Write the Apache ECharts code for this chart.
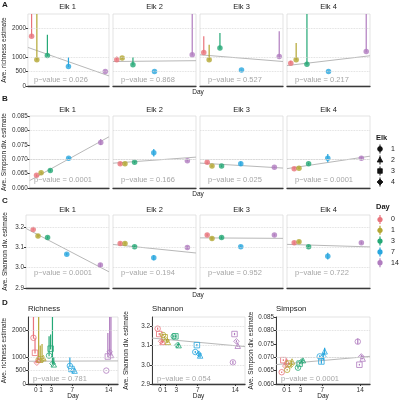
<!DOCTYPE html>
<html>
<head>
<meta charset="utf-8">
<script src="https://cdn.jsdelivr.net/npm/echarts@6/dist/echarts.min.js"></script>
<style>
  html, body { margin: 0; background: #fff; }
  #chart { width: 399px; height: 400px; }
</style>
</head>
<body>
<div id="chart"></div>
<script>
const days = [0, 1, 3, 7, 14];
const elkNames = ['1', '2', '3', '4'];
const facetNames = ['Elk 1', 'Elk 2', 'Elk 3', 'Elk 4'];

const richTicks = [0, 500, 1000, 2000];
const simpTicks = [0.060, 0.065, 0.070, 0.075, 0.080, 0.085];
const shanTicks = [2.9, 3.0, 3.1, 3.2];

// rows = elk 1..4, columns = day 0,1,3,7,14
const richness   = [[1724, 909, 1060, 675, 500], [909, 968, 734, 500, 1084], [1164, 909, 1318, 559, 1025], [793, 909, 758, 500, 1200]];
const richnessLo = [[1690, 885, 1040, 660, 490], [885, 950, 720, 490, 1060], [1140, 890, 1290, 545, 1000], [775, 890, 740, 490, 1170]];
const richnessHi = [[4000, 4000, 1783, 1000, 520], [1024, 990, 1000, 510, 4000], [1724, 1434, 1843, 570, 1900], [874, 1490, 4000, 510, 4000]];

const simpson   = [[0.0644, 0.0653, 0.0661, 0.0703, 0.0758], [0.0684, 0.0684, 0.0689, 0.0722, 0.0695], [0.0689, 0.0676, 0.0676, 0.0684, 0.0672], [0.0667, 0.0669, 0.0684, 0.0703, 0.0703]];
const simpsonLo = [[0.0641, 0.0650, 0.0657, 0.0699, 0.0749], [0.0681, 0.0681, 0.0686, 0.0709, 0.0692], [0.0686, 0.0673, 0.0673, 0.0676, 0.0669], [0.0664, 0.0666, 0.0681, 0.0689, 0.0697]];
const simpsonHi = [[0.0647, 0.0656, 0.0665, 0.0707, 0.0770], [0.0687, 0.0687, 0.0692, 0.0735, 0.0698], [0.0692, 0.0679, 0.0679, 0.0692, 0.0675], [0.0670, 0.0672, 0.0687, 0.0718, 0.0709]];

const shannon   = [[3.189, 3.156, 3.149, 3.067, 3.013], [3.120, 3.120, 3.103, 3.049, 3.100], [3.161, 3.144, 3.149, 3.103, 3.161], [3.123, 3.128, 3.103, 3.057, 3.123]];
const shannonLo = [[3.183, 3.150, 3.143, 3.061, 3.004], [3.114, 3.114, 3.097, 3.037, 3.094], [3.155, 3.138, 3.143, 3.097, 3.155], [3.117, 3.122, 3.097, 3.040, 3.117]];
const shannonHi = [[3.195, 3.162, 3.155, 3.073, 3.022], [3.126, 3.126, 3.109, 3.061, 3.106], [3.167, 3.150, 3.155, 3.109, 3.167], [3.129, 3.134, 3.109, 3.074, 3.129]];

// fitted value at day 0 and day 14 for each elk
const richnessFit = [[1295, 395], [851, 878], [1073, 861], [725, 1034]];
const simpsonFit  = [[0.0639, 0.0762], [0.0688, 0.0705], [0.0685, 0.0671], [0.0671, 0.0706]];
const shannonFit  = [[3.175, 3.002], [3.111, 3.077], [3.147, 3.145], [3.114, 3.104]];

const richnessP = ['0.026', '0.868', '0.527', '0.217'];
const simpsonP  = ['0.0001', '0.166', '0.025', '0.0001'];
const shannonP  = ['0.0001', '0.194', '0.952', '0.722'];

// panel D: pooled
const pooledTitles = ['Richness', 'Shannon', 'Simpson'];
const pooledFit = [[850, 860], [3.136, 3.100], [0.0675, 0.0700]];
const pooledP = ['0.781', '0.054', '0.0001'];

// styling
const dayColors = ['#E8737B', '#B3A632', '#24A876', '#28A6DE', '#B07CBF'];
const elkSymbols = ['circle', 'triangle', 'rect', 'diamond'];
const elkJitter = [-0.45, 0.45, -0.15, 0.2];
const FONT = '"Liberation Sans", Arial, sans-serif';
const TXT = '#1a1a1a';

const chart = echarts.init(document.getElementById('chart'));
const grid = [], xAxis = [], yAxis = [], series = [], graphic = [];

function text(x, y, s, opt) {
  opt = opt || {};
  graphic.push({
    type: 'text', x: x, y: y, silent: true,
    style: {
      text: s, fill: opt.color || TXT,
      font: (opt.bold ? 'bold ' : '') + (opt.size || 7) + 'px ' + FONT,
      align: opt.align || 'left', verticalAlign: 'middle',
      textAlign: opt.align || 'left', textVerticalAlign: 'middle'
    }
  });
}

function addPanel(o) {
  const i = grid.length;
  grid.push({ left: o.left, top: o.top, width: o.width, height: o.height, show: true,
    borderColor: '#dcdcdc', borderWidth: 0.8, backgroundColor: '#fff' });
  xAxis.push({ gridIndex: i, type: 'value', min: o.xr[0], max: o.xr[1], splitLine: { show: false },
    axisLine: { show: true, onZero: false, lineStyle: { color: '#3a3a3a', width: 1.3 } },
    axisTick: { show: !!o.xTicks, customValues: o.xTicks, length: 2, lineStyle: { color: '#333' } },
    axisLabel: { show: !!o.xTicks, customValues: o.xTicks, fontSize: 6.5, color: '#333', margin: 3, fontFamily: FONT } });
  yAxis.push({ gridIndex: i, type: 'value', min: o.yr[0], max: o.yr[1], splitLine: { show: false },
    axisLine: { show: !!o.yLine, onZero: false, lineStyle: { color: '#3a3a3a', width: 1 } },
    axisTick: { show: o.showY, customValues: o.ticks, length: 2, lineStyle: { color: '#333' } },
    axisLabel: { show: o.showY, customValues: o.ticks, formatter: o.fmt, fontSize: 6.3, color: '#333', margin: 2, fontFamily: FONT },
    name: o.name || '', nameLocation: 'middle', nameRotate: 90, nameGap: o.nameGap || 0,
    nameTextStyle: { fontSize: 6.5, color: TXT, fontFamily: FONT } });
  // fitted line + dotted grid lines
  const f = o.fit;
  const at = x => f[0] + (f[1] - f[0]) * x / 14;
  series.push({ type: 'line', xAxisIndex: i, yAxisIndex: i, silent: true, symbol: 'none', z: 2, clip: true,
    data: [[o.xr[0], at(o.xr[0])], [o.xr[1], at(o.xr[1])]],
    lineStyle: { color: '#b8b8b8', width: 1 },
    markLine: { silent: true, symbol: 'none', label: { show: false }, animation: false,
      lineStyle: { type: 'dotted', color: '#d6d6d6', width: 0.8 },
      data: o.ticks.filter(t => t > o.yr[0] && t < o.yr[1]).map(t => ({ yAxis: t })) } });
  return i;
}

function addErr(i, items) {
  series.push({ type: 'custom', xAxisIndex: i, yAxisIndex: i, clip: true, silent: true, z: 3,
    encode: { x: 0, y: [1, 2] }, data: items,
    renderItem: (params, api) => {
      const a = api.coord([api.value(0), api.value(1)]);
      const b = api.coord([api.value(0), api.value(2)]);
      return { type: 'line', shape: { x1: a[0], y1: a[1], x2: b[0], y2: b[1] },
        style: { stroke: dayColors[api.value(3)], lineWidth: 1.2 } };
    } });
}

const facetLeft = [26, 113, 200, 287], facetW = 83;
const rows = [
  { letter: 'A', letterY: 5, stripY: 7, top: 14, h: 72, xr: [-0.7, 14.7], yr: [0, 2500],
    v: richness, lo: richnessLo, hi: richnessHi, fit: richnessFit, p: richnessP, ticks: richTicks,
    fmt: v => String(v), name: 'Ave. richness estimate', pOff: 6, dayY: 92 },
  { letter: 'B', letterY: 99, stripY: 110, top: 116, h: 72, xr: [-1.5, 15.8], yr: [0.060, 0.085],
    v: simpson, lo: simpsonLo, hi: simpsonHi, fit: simpsonFit, p: simpsonP, ticks: simpTicks,
    fmt: v => v.toFixed(3), name: 'Ave. Simpson div. estimate', pOff: 8, dayY: 194 },
  { letter: 'C', letterY: 201, stripY: 210, top: 215, h: 73, xr: [-1.5, 15.8], yr: [2.9, 3.26],
    v: shannon, lo: shannonLo, hi: shannonHi, fit: shannonFit, p: shannonP, ticks: shanTicks,
    fmt: v => v.toFixed(1), name: 'Ave. Shannon div. estimate', pOff: 15, dayY: 295 }
];

rows.forEach(r => {
  text(2, r.letterY, r.letter, { bold: true, size: 8 });
  text(198, r.dayY, 'Day', { size: 6.5, align: 'center' });
  facetNames.forEach((fn, e) => {
    const i = addPanel({ left: facetLeft[e], top: r.top, width: facetW, height: r.h, xr: r.xr, yr: r.yr,
      ticks: r.ticks, fmt: r.fmt, showY: e === 0, name: e === 0 ? r.name : '', nameGap: 17, fit: r.fit[e] });
    addErr(i, days.map((d, k) => [d, r.lo[e][k], r.hi[e][k], k]));
    series.push({ type: 'scatter', xAxisIndex: i, yAxisIndex: i, symbol: 'circle', symbolSize: 5.5, z: 4, silent: true,
      data: days.map((d, k) => ({ value: [d, r.v[e][k]], itemStyle: { color: dayColors[k] } })) });
    text(facetLeft[e] + facetW / 2, r.stripY, fn, { size: 7.5, align: 'center' });
    text(facetLeft[e] + 8, r.top + r.h - r.pOff, 'p\u2212value = ' + r.p[e], { size: 7.5, color: '#a6a6a6' });
  });
});

// panel D
const pooled = [
  { v: richness, lo: richnessLo, hi: richnessHi, yr: [0, 2500], ticks: richTicks, fmt: v => String(v),
    name: 'Ave. richness estimate', left: 28, w: 90, gap: 20 },
  { v: shannon, lo: shannonLo, hi: shannonHi, yr: [2.9, 3.25], ticks: shanTicks, fmt: v => v.toFixed(1),
    name: 'Ave. Shannon div. estimate', left: 152, w: 93, gap: 22 },
  { v: simpson, lo: simpsonLo, hi: simpsonHi, yr: [0.060, 0.085], ticks: simpTicks, fmt: v => v.toFixed(3),
    name: 'Ave. Simpson div. estimate', left: 276, w: 94, gap: 21 }
];
const dTop = 317, dH = 67, dXr = [-1.5, 15.8];
text(2, 303, 'D', { bold: true, size: 8 });
pooled.forEach((m, j) => {
  const i = addPanel({ left: m.left, top: dTop, width: m.w, height: dH, xr: dXr, yr: m.yr, ticks: m.ticks,
    fmt: m.fmt, showY: true, yLine: true, name: m.name, nameGap: m.gap, fit: pooledFit[j], xTicks: days });
  const bars = [];
  elkNames.forEach((en, e) => days.forEach((d, k) => bars.push([d + elkJitter[e], m.lo[e][k], m.hi[e][k], k])));
  addErr(i, bars);
  elkNames.forEach((en, e) => {
    series.push({ type: 'scatter', xAxisIndex: i, yAxisIndex: i, symbol: elkSymbols[e], symbolSize: 5.5, z: 4, silent: true,
      data: days.map((d, k) => ({ value: [d + elkJitter[e], m.v[e][k]],
        itemStyle: { color: 'rgba(255,255,255,0)', borderColor: dayColors[k], borderWidth: 1 } })) });
  });
  text(m.left, 309, pooledTitles[j], { size: 7.8 });
  text(m.left + m.w / 2, 396, 'Day', { size: 6.5, align: 'center' });
  text(m.left + 5, dTop + dH - 5, 'p\u2212value = ' + pooledP[j], { size: 7.5, color: '#a6a6a6' });
});

// legends
text(376, 138, 'Elk', { bold: true, size: 7.5 });
elkNames.forEach((en, e) => {
  const cx = 380, cy = 149 + e * 11;
  graphic.push({ type: 'line', silent: true, shape: { x1: cx, y1: cy - 4.5, x2: cx, y2: cy + 4.5 }, style: { stroke: '#111', lineWidth: 1 } });
  const st = { fill: '#111', stroke: '#111', lineWidth: 0.8 };
  if (e === 0) graphic.push({ type: 'circle', silent: true, shape: { cx: cx, cy: cy, r: 2.4 }, style: st });
  if (e === 1) graphic.push({ type: 'polygon', silent: true, shape: { points: [[cx, cy - 3], [cx + 2.8, cy + 2], [cx - 2.8, cy + 2]] }, style: st });
  if (e === 2) graphic.push({ type: 'rect', silent: true, shape: { x: cx - 2.3, y: cy - 2.3, width: 4.6, height: 4.6 }, style: st });
  if (e === 3) graphic.push({ type: 'polygon', silent: true, shape: { points: [[cx, cy - 3], [cx + 3, cy], [cx, cy + 3], [cx - 3, cy]] }, style: st });
  text(391, cy, en, { size: 7 });
});
text(376, 207, 'Day', { bold: true, size: 7.5 });
days.forEach((d, k) => {
  const cx = 380, cy = 219.5 + k * 10.8;
  graphic.push({ type: 'line', silent: true, shape: { x1: cx, y1: cy - 4.5, x2: cx, y2: cy + 4.5 }, style: { stroke: dayColors[k], lineWidth: 1.2 } });
  graphic.push({ type: 'circle', silent: true, shape: { cx: cx, cy: cy, r: 2.6 }, style: { fill: dayColors[k] } });
  text(391, cy, String(d), { size: 7 });
});

chart.setOption({
  animation: false,
  backgroundColor: '#fff',
  grid: grid,
  xAxis: xAxis,
  yAxis: yAxis,
  series: series,
  graphic: graphic
});
</script>
</body>
</html>
